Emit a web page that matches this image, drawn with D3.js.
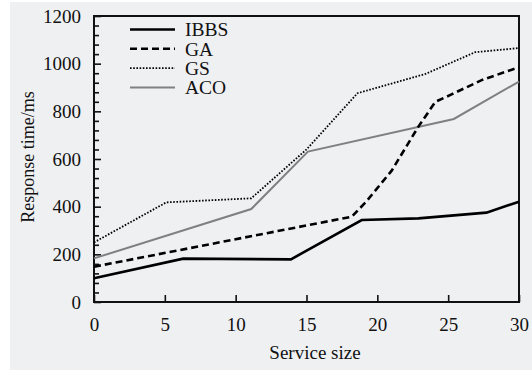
<!DOCTYPE html>
<html>
<head>
<meta charset="utf-8">
<script src="https://cdn.jsdelivr.net/npm/d3@7"></script>
<style>
  html, body { margin: 0; padding: 0; background: #ffffff; }
  svg { display: block; }
  text { font-family: "Liberation Serif", "Times New Roman", Times, serif; fill: #111; }
</style>
</head>
<body>
<svg id="chart" width="532" height="370"></svg>
<script>
// Response time (ms) against service size for four scheduling methods
const seriesNames = ["IBBS", "GA", "GS", "ACO"];
const ibbsX = [0, 6.3, 13.9, 18.9, 22.9, 27.7, 30];
const ibbsY = [100, 182, 179, 344, 351, 375, 421];
const gaX = [0, 18.2, 19.2, 21, 22.9, 24.1, 25.2, 27.4, 30];
const gaY = [148, 358, 420, 550, 736, 840, 870, 932, 985];
const gsX = [0, 5.1, 11.1, 15, 18.6, 23.4, 26.9, 29.9];
const gsY = [250, 418, 435, 640, 876, 957, 1048, 1065];
const acoX = [0, 11.1, 15.1, 25.4, 30];
const acoY = [183, 390, 631, 768, 925];
const xTicks = [0, 5, 10, 15, 20, 25, 30];
const yTicks = [0, 200, 400, 600, 800, 1000, 1200];
const xLabel = "Service size";
const yLabel = "Response time/ms";

const svg = d3.select("#chart");
const W = 532, H = 370;
const m = { left: 94, right: 13, top: 16, bottom: 68 };

// panel background
svg.append("rect").attr("x", 10).attr("y", 2).attr("width", W - 10).attr("height", H - 2)
  .attr("fill", "#eff0f2");

const x = d3.scaleLinear().domain([0, 30]).range([m.left, W - m.right]);
const y = d3.scaleLinear().domain([0, 1200]).range([H - m.bottom, m.top]);

const styles = {
  IBBS: { color: "#000", width: 2.6, dash: null },
  GA:   { color: "#000", width: 2.6, dash: "7,4" },
  GS:   { color: "#000", width: 1.8, dash: "1.6,1.6" },
  ACO:  { color: "#808080", width: 2, dash: null }
};

const data = {
  IBBS: d3.zip(ibbsX, ibbsY),
  GA: d3.zip(gaX, gaY),
  GS: d3.zip(gsX, gsY),
  ACO: d3.zip(acoX, acoY)
};

// frame
svg.append("rect")
  .attr("x", x(0)).attr("y", y(1200))
  .attr("width", x(30) - x(0)).attr("height", y(0) - y(1200))
  .attr("fill", "none").attr("stroke", "#111").attr("stroke-width", 2);

const fmt = d3.format("d");

// x axis: ticks inward
const xAxis = svg.append("g").attr("transform", `translate(0,${y(0)})`)
  .call(d3.axisBottom(x).tickValues(xTicks).tickFormat(fmt).tickSizeInner(-7).tickSizeOuter(0).tickPadding(16));
xAxis.select(".domain").remove();
xAxis.attr("font-family", null).attr("font-size", null);
xAxis.selectAll("line").attr("stroke", "#111").attr("stroke-width", 1.6);
xAxis.selectAll("text").attr("font-size", 19).attr("fill", "#111");

// y axis minor ticks every 40
const yMinor = d3.range(0, 1201, 40).filter(v => v % 200 !== 0);
const yMinorAxis = svg.append("g").attr("transform", `translate(${x(0)},0)`)
  .call(d3.axisLeft(y).tickValues(yMinor).tickSizeInner(-5).tickSizeOuter(0).tickFormat(""));
yMinorAxis.select(".domain").remove();
yMinorAxis.selectAll("line").attr("stroke", "#111").attr("stroke-width", 1.6);

// y axis major ticks
const yAxis = svg.append("g").attr("transform", `translate(${x(0)},0)`)
  .call(d3.axisLeft(y).tickValues(yTicks).tickFormat(fmt).tickSizeInner(-7).tickSizeOuter(0).tickPadding(13));
yAxis.select(".domain").remove();
yAxis.attr("font-family", null).attr("font-size", null);
yAxis.selectAll("line").attr("stroke", "#111").attr("stroke-width", 1.6);
yAxis.selectAll("text").attr("font-size", 19).attr("fill", "#111");

// series lines
const line = d3.line().x(d => x(d[0])).y(d => y(d[1]));
["ACO", "GS", "GA", "IBBS"].forEach(name => {
  const s = styles[name];
  svg.append("path").datum(data[name])
    .attr("d", line)
    .attr("fill", "none")
    .attr("stroke", s.color)
    .attr("stroke-width", s.width)
    .attr("stroke-dasharray", s.dash)
    .attr("stroke-linejoin", "miter");
});

// legend
const legend = svg.append("g");
seriesNames.forEach((name, i) => {
  const s = styles[name];
  const ly = 29.5 + i * 19.3;
  legend.append("line")
    .attr("x1", 130).attr("x2", 175).attr("y1", ly).attr("y2", ly)
    .attr("stroke", s.color).attr("stroke-width", s.width)
    .attr("stroke-dasharray", s.dash);
  legend.append("text")
    .attr("x", 185).attr("y", ly).attr("dy", "0.35em")
    .attr("font-size", 19.5).text(name);
});

// axis titles
svg.append("text")
  .attr("x", 315).attr("y", 352).attr("dy", "0.35em")
  .attr("text-anchor", "middle").attr("font-size", 19)
  .text(xLabel);
svg.append("text")
  .attr("transform", `translate(28,157) rotate(-90)`)
  .attr("dy", "0.35em")
  .attr("text-anchor", "middle").attr("font-size", 18)
  .text(yLabel);
</script>
</body>
</html>
